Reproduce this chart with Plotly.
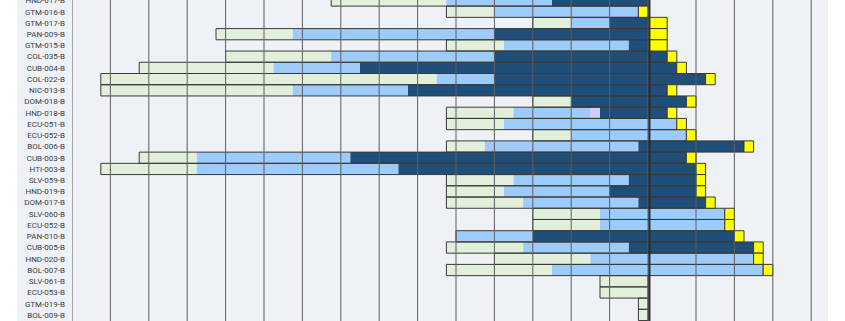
import plotly.graph_objects as go

# Row labels (top to bottom)
labels = ["HND-017-B", "GTM-016-B", "GTM-017-B", "PAN-009-B", "GTM-015-B", "COL-035-B",
          "CUB-004-B", "COL-022-B", "NIC-013-B", "DOM-018-B", "HND-018-B", "ECU-051-B",
          "ECU-052-B", "BOL-006-B", "CUB-003-B", "HTI-003-B", "SLV-059-B", "HND-019-B",
          "DOM-017-B", "SLV-060-B", "ECU-052-B", "PAN-010-B", "CUB-005-B", "HND-020-B",
          "BOL-007-B", "SLV-061-B", "ECU-053-B", "GTM-019-B", "BOL-009-B"]

# Phase boundaries in weeks (None = phase absent)
green_start = [27, 39, 48, 15, 39, 16, 7, 3, 3, 48, 39, 39, 48, 39, 7, 3, 39, 39, 39, 48, 48, None, 39, 44, 39, 55, 55, 59, 59]
green_end   = [39, 44, 52, 23, 45, 27, 21, 38, 23, 52, 46, 45, 52, 43, 13, 13, 46, 45, 47, 55, 55, None, 47, 54, 50, 60, 60, 60, 60]
lblue_start = [39, 44, 52, 23, 45, 27, 21, 38, 23, None, 46, 45, 52, 43, 13, 13, 46, 45, 47, 55, 55, 40, 47, 54, 50, None, None, None, None]
lblue_end   = [50, 59, 56, 44, 58, 44, 30, 44, 35, None, 54, 63, 64, 59, 29, 34, 58, 56, 59, 68, 68, 48, 58, 71, 72, None, None, None, None]
lav_start   = [None, None, None, None, None, None, None, None, None, None, 54, None, None, None, None, None, None, None, None, None, None, None, None, None, None, None, None, None, None]
lav_end     = [None, None, None, None, None, None, None, None, None, None, 55, None, None, None, None, None, None, None, None, None, None, None, None, None, None, None, None, None, None]
dblue_start = [50, None, 56, 44, 58, 44, 30, 44, 35, 52, 55, None, None, 59, 29, 34, 58, 56, 59, None, None, 48, 58, None, None, None, None, None, None]
dblue_end   = [60, None, 60, 60, 60, 62, 63, 66, 62, 64, 62, None, None, 70, 64, 65, 65, 65, 66, None, None, 69, 71, None, None, None, None, None, None]
yellow_start = [None, 59, 60, 60, 60, 62, 63, 66, 62, 64, 62, 63, 64, 70, 64, 65, 65, 65, 66, 68, 68, 69, 71, 71, 72, None, None, None, None]
yellow_end   = [None, 60, 62, 62, 62, 63, 64, 67, 63, 65, 63, 64, 65, 71, 65, 66, 66, 66, 67, 69, 69, 70, 72, 72, 73, None, None, None, None]

grid_weeks = [0, 4, 8, 12, 16, 20, 24, 28, 32, 36, 40, 44, 48, 52, 56, 60, 65, 69, 73, 77]
today_week = 60.15

rows = list(range(len(labels)))

def seg(starts, ends):
    base = [s if s is not None else None for s in starts]
    length = [(e - s) if (s is not None and e is not None) else None for s, e in zip(starts, ends)]
    return base, length

fig = go.Figure()

series = [
    (green_start, green_end, "#e2efda"),
    (lblue_start, lblue_end, "#9dcbfa"),
    (lav_start, lav_end, "#ccccff"),
    (dblue_start, dblue_end, "#1f4e79"),
]
for s, e, c in series:
    b, l = seg(s, e)
    fig.add_trace(go.Bar(y=rows, x=l, base=b, orientation="h", width=1.0,
                         marker=dict(color=c, line=dict(width=0)), showlegend=False))

# outline around the whole (non-yellow) bar
o_start, o_end = [], []
for i in rows:
    ss = [v for v in (green_start[i], lblue_start[i], lav_start[i], dblue_start[i]) if v is not None]
    ee = [v for v in (green_end[i], lblue_end[i], lav_end[i], dblue_end[i]) if v is not None]
    o_start.append(min(ss) if ss else None)
    o_end.append(max(ee) if ee else None)
b, l = seg(o_start, o_end)
fig.add_trace(go.Bar(y=rows, x=l, base=b, orientation="h", width=1.0,
                     marker=dict(color="rgba(0,0,0,0)", line=dict(width=1, color="#3a3a3a")),
                     showlegend=False))

b, l = seg(yellow_start, yellow_end)
fig.add_trace(go.Bar(y=rows, x=l, base=b, orientation="h", width=1.0,
                     marker=dict(color="#ffff00", line=dict(width=1, color="#3a3a3a")),
                     showlegend=False))

shapes = [dict(type="rect", xref="paper", yref="paper", x0=(17 - 72) / 756, x1=1, y0=0, y1=1,
               fillcolor="#eef2f7", line=dict(width=0), layer="below")]
for g in grid_weeks:
    shapes.append(dict(type="line", xref="x", yref="paper", x0=g, x1=g, y0=0, y1=1,
                       line=dict(color="#5e5e5e", width=1), layer="above"))
shapes.append(dict(type="line", xref="x", yref="paper", x0=today_week, x1=today_week, y0=0, y1=1,
                   line=dict(color="#2a2a2a", width=2), layer="above"))

fig.update_layout(
    width=845, height=321,
    margin=dict(l=72, r=17, t=0, b=0),
    paper_bgcolor="white",
    plot_bgcolor="rgba(0,0,0,0)",
    barmode="overlay",
    shapes=shapes,
    xaxis=dict(range=[0, 78.75], showgrid=False, zeroline=False, showticklabels=False,
               ticks="", automargin=False),
    yaxis=dict(range=[28.54, -0.045], tickvals=rows, ticktext=labels, showgrid=False,
               zeroline=False, ticks="", ticklabelstandoff=6, ticklabeloverflow="allow",
               automargin=False,
               tickfont=dict(family="Roboto", size=8, color="#404040")),
)

fig.write_html("out.html")
